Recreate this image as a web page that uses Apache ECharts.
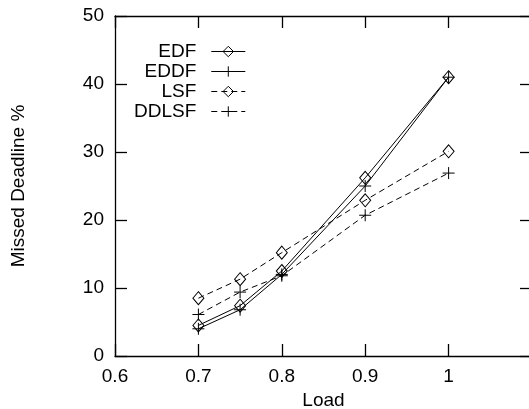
<!DOCTYPE html>
<html><head><meta charset="utf-8">
<script src="https://cdn.jsdelivr.net/npm/echarts@6/dist/echarts.min.js"></script>
<style>html,body{margin:0;padding:0;background:#fff}#c{width:529px;height:409px}</style>
</head><body><div id="c"></div>
<script>
const loads = [0.7, 0.75, 0.8, 0.9, 1.0];
const edf   = [4.5, 7.4, 12.5, 26.2, 41.0];
const eddf  = [4.0, 6.8, 12.0, 25.0, 41.0];
const lsf   = [8.5, 11.3, 15.2, 22.9, 30.1];
const ddlsf = [6.1, 9.4, 11.8, 20.7, 26.9];
const seriesNames = ['EDF', 'EDDF', 'LSF', 'DDLSF'];
const xTicks = [0.6, 0.7, 0.8, 0.9, 1, 1.1];
const yTicks = [0, 10, 20, 30, 40, 50];

const FONT = 'Liberation Sans, Arial, sans-serif';
const FS = 19;
const TICK = 12;
const plus = 'path://M0,6L12,6M6,0L6,12';
function pairs(v){ return loads.map((x,i)=>[x, v[i]]); }
function mk(name, data, sym, dashed){
  return {
    name, type:'line', data:pairs(data),
    symbol: sym === 'd' ? 'diamond' : plus,
    symbolSize: sym === 'd' ? [11,13] : [12,12],
    showSymbol:true,
    lineStyle:{color:'#000', width:1, type: dashed ? [6,4] : 'solid'},
    itemStyle:{color:'rgba(255,255,255,0)', borderColor:'#000', borderWidth:1},
    emphasis:{disabled:true},
    animation:false
  };
}
const X = {type:'value', min:0.6, max:1.1, interval:0.1};
const Y = {type:'value', min:0, max:50, interval:10};
function frame(base, pos, extra){
  return Object.assign({}, base, {position:pos,
    axisLine:{show:true, onZero:false, lineStyle:{color:'#000', width:1.3}},
    axisTick:{show:false}, splitLine:{show:false}, axisLabel:{show:false}}, extra || {});
}
function ticks(base, pos){
  return Object.assign({}, base, {position:pos, offset:-TICK,
    axisLine:{show:false, onZero:false},
    axisTick:{show:true, length:TICK, lineStyle:{color:'#000', width:1.3}},
    axisLabel:{show:false}, splitLine:{show:false}});
}
const chart = echarts.init(document.getElementById('c'));
chart.setOption({
  backgroundColor:'#fff',
  animation:false,
  grid:{left:115, right:-3, top:16, bottom:53, containLabel:false, outerBoundsMode:'none'},
  legend:{
    orient:'vertical', align:'right', left:129, top:37,
    itemWidth:34, itemHeight:13, itemGap:1,
    data:seriesNames,
    itemStyle:{borderWidth:1},
    lineStyle:{width:1},
    textStyle:{fontFamily:FONT, fontSize:FS, lineHeight:18, color:'#000', padding:[0,10,0,0]}
  },
  xAxis:[
    frame(X, 'bottom', {
      name:'Load', nameLocation:'middle', nameGap:24,
      nameTextStyle:{fontFamily:FONT, fontSize:FS, color:'#000'},
      axisLabel:{show:true, fontFamily:FONT, fontSize:FS, color:'#000', margin:11,
        formatter:v=>{ const t = xTicks.find(x=>Math.abs(x-v)<1e-6); return t===1.1?'':String(t); }}
    }),
    frame(X, 'top'),
    ticks(X, 'bottom'),
    ticks(X, 'top')
  ],
  yAxis:[
    frame(Y, 'left', {
      name:'Missed Deadline %', nameLocation:'middle', nameGap:87,
      nameTextStyle:{fontFamily:FONT, fontSize:FS, color:'#000'},
      axisLabel:{show:true, fontFamily:FONT, fontSize:FS, color:'#000', margin:11,
        formatter:v=>String(yTicks.find(y=>Math.abs(y-v)<1e-6))}
    }),
    frame(Y, 'right'),
    ticks(Y, 'left'),
    ticks(Y, 'right')
  ],
  series:[
    mk('EDF', edf, 'd', false),
    mk('EDDF', eddf, 'p', false),
    mk('LSF', lsf, 'd', true),
    mk('DDLSF', ddlsf, 'p', true)
  ]
});
</script></body></html>
